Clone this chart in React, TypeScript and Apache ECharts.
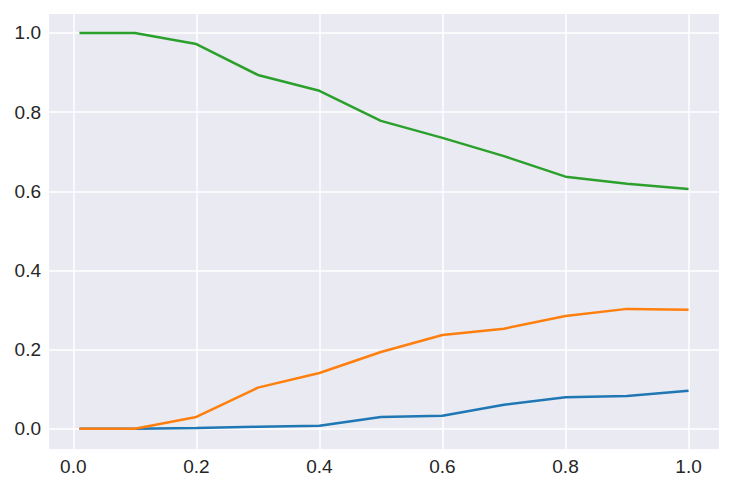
import React, { useEffect, useRef } from "react";
import * as echarts from "echarts";

const xValues = [0.01, 0.1, 0.2, 0.3, 0.4, 0.5, 0.6, 0.7, 0.8, 0.9, 1.0];
const blueValues = [0.0, 0.0, 0.002, 0.005, 0.008, 0.030, 0.033, 0.061, 0.080, 0.083, 0.096];
const orangeValues = [0.0, 0.0, 0.030, 0.104, 0.141, 0.194, 0.237, 0.253, 0.285, 0.303, 0.301];
const greenValues = [1.0, 1.0, 0.972, 0.894, 0.854, 0.778, 0.735, 0.689, 0.637, 0.619, 0.606];
const xTicks = [0.0, 0.2, 0.4, 0.6, 0.8, 1.0];
const yTicks = [0.0, 0.2, 0.4, 0.6, 0.8, 1.0];

const pair = (ys: number[]) => xValues.map((x, i) => [x, ys[i]]);

export default function App() {
  const ref = useRef<HTMLDivElement>(null);
  useEffect(() => {
    if (!ref.current) return;
    const chart = echarts.init(ref.current, null, { renderer: "svg" });
    const labelStyle = {
      color: "#262626",
      fontSize: 19,
      fontFamily: "Liberation Sans, Arial, sans-serif",
      formatter: (v: number) => v.toFixed(1),
    };
    const mkSeries = (data: number[][], color: string) => ({
      type: "line",
      data,
      showSymbol: false,
      symbol: "none",
      lineStyle: { color, width: 2.5 },
      itemStyle: { color },
      silent: true,
    });
    chart.setOption({
      animation: false,
      backgroundColor: "#ffffff",
      grid: {
        left: 49,
        right: 14,
        top: 14,
        bottom: 40,
        show: true,
        backgroundColor: "#eaeaf2",
        borderWidth: 0,
      },
      xAxis: {
        type: "value",
        min: -0.0395,
        max: 1.0495,
        axisLine: { show: false },
        axisTick: { show: false, customValues: xTicks },
        axisLabel: { ...labelStyle, margin: 8, customValues: xTicks, showMinLabel: true, showMaxLabel: true },
        splitLine: { show: true, lineStyle: { color: "#ffffff", width: 1.5 } },
      },
      yAxis: {
        type: "value",
        min: -0.051,
        max: 1.048,
        axisLine: { show: false },
        axisTick: { show: false, customValues: yTicks },
        axisLabel: { ...labelStyle, margin: 8, customValues: yTicks, showMinLabel: true, showMaxLabel: true },
        splitLine: { show: true, lineStyle: { color: "#ffffff", width: 1.5 } },
      },
      series: [
        mkSeries(pair(blueValues), "#1f77b4"),
        mkSeries(pair(orangeValues), "#ff7f0e"),
        mkSeries(pair(greenValues), "#2ca02c"),
      ],
    });
    return () => chart.dispose();
  }, []);
  return <div ref={ref} style={{ width: 733, height: 489, position: "absolute", left: 0, top: 0 }} />;
}
